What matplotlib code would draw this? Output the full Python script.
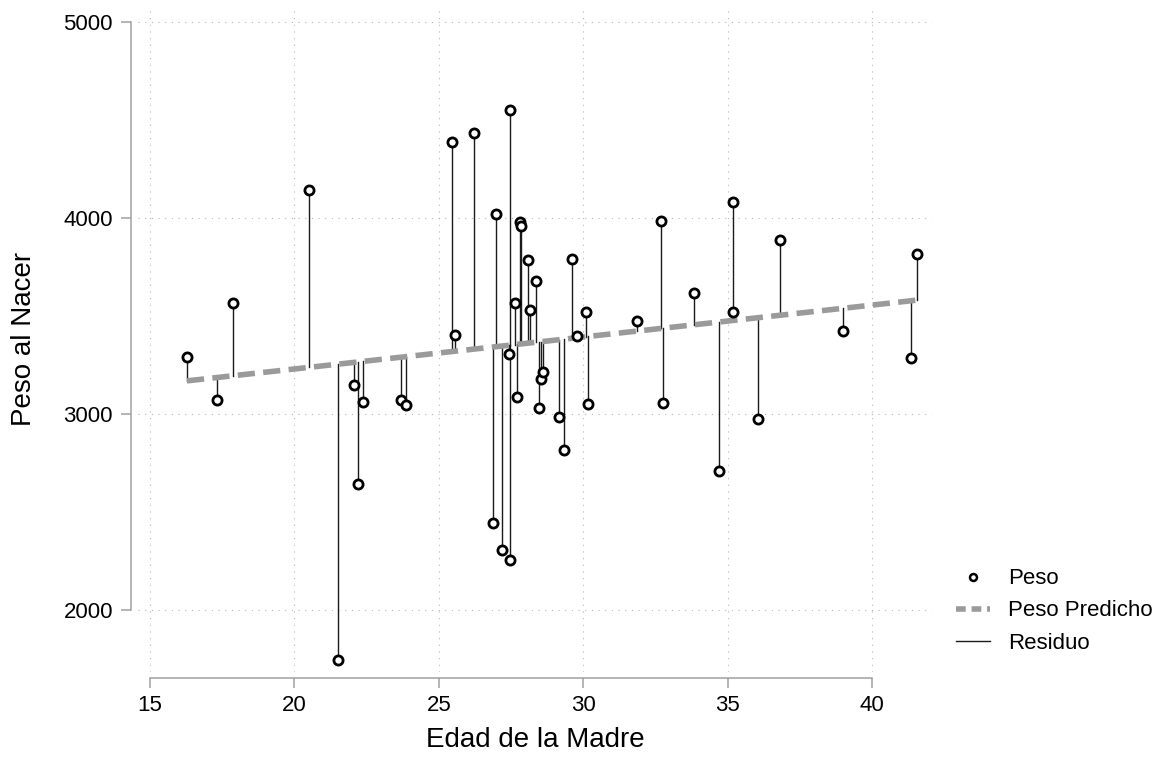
import numpy as np
import matplotlib
matplotlib.use("Agg")
import matplotlib.pyplot as plt
from matplotlib.lines import Line2D

plt.rcParams['font.family'] = ['Liberation Sans', 'DejaVu Sans']

# Data
edad = [16.28, 17.32, 17.87, 20.51, 21.52, 22.06, 22.20, 22.38, 23.69, 23.86,
        25.46, 25.56, 26.22, 26.88, 26.98, 27.19, 27.47, 27.43, 27.47, 27.64,
        27.71, 27.81, 27.85, 28.09, 28.16, 28.37, 28.47, 28.54, 28.61, 29.16,
        29.34, 29.61, 29.79, 30.10, 30.17, 31.86, 32.69, 32.76, 33.84, 34.70,
        35.19, 35.17, 36.05, 36.81, 39.00, 41.35, 41.56]
peso = [3291, 3071, 3566, 4143, 1745, 3148, 2643, 3061, 3071, 3046,
        4388, 3403, 4434, 2444, 4020, 2306, 4551, 3306, 2255, 3566,
        3087, 3980, 3959, 3786, 3531, 3679, 3031, 3179, 3214, 2985,
        2816, 3791, 3398, 3520, 3051, 3474, 3985, 3056, 3617, 2709,
        4082, 3520, 2974, 3888, 3423, 3286, 3816]

x_ticks = [15, 20, 25, 30, 35, 40]
y_ticks = [2000, 3000, 4000, 5000]
x_label = "Edad de la Madre"
y_label = "Peso al Nacer"
legend_labels = ["Peso", "Peso Predicho", "Residuo"]

x = np.array(edad)
y = np.array(peso)
b1, b0 = np.polyfit(x, y, 1)
pred = b0 + b1 * x

W, H = 1169, 760
fig = plt.figure(figsize=(W / 100, H / 100), dpi=100)
ax = fig.add_axes([138 / W, 1 - 672 / H, (932 - 138) / W, (672 - 6) / H])

# residual lines
for xi, yi, pi in zip(x, y, pred):
    ax.plot([xi, xi], [yi, pi], color='#1a1a1a', lw=1.0, zorder=2)

order = np.argsort(x)
ax.plot(x[order], pred[order], color='#9a9a9a', lw=4.0, dashes=(3.1, 1.5),
        solid_capstyle='butt', dash_capstyle='butt', zorder=3)

ax.plot(x, y, linestyle='none', marker='o', ms=6.6, mfc='white', mec='black',
        mew=2.0, zorder=4)

ax.set_xlim(15 - 12 / 28.88, 40 + 60 / 28.88)
ax.set_ylim(2000 - 62 / 0.196, 5000 + 16 / 0.196)
ax.set_xticks(x_ticks)
ax.set_yticks(y_ticks)
ax.set_xticklabels([str(v) for v in x_ticks])
ax.set_yticklabels([str(v) for v in y_ticks])

ax.grid(True, color='#b5b5b5', lw=0.8, linestyle=(0, (1, 5)))
ax.set_axisbelow(True)

for s in ['top', 'right']:
    ax.spines[s].set_visible(False)
spine_c = '#a0a0a0'
ax.spines['left'].set_position(('outward', 5))
ax.spines['bottom'].set_position(('outward', 4.3))
ax.spines['left'].set_bounds(2000, 5000)
ax.spines['bottom'].set_bounds(15, 40)
for s in ['left', 'bottom']:
    ax.spines[s].set_color(spine_c)
    ax.spines[s].set_linewidth(1.1)
ax.tick_params(axis='both', colors=spine_c, labelcolor='black', width=1.1,
               length=7.5, labelsize=16)
ax.tick_params(axis='y', pad=5.5)
ax.tick_params(axis='x', pad=5)

ax.set_xlabel(x_label, fontsize=20, va='center')
ax.xaxis.set_label_coords(0.5, (672 - 740) / 666)
ax.set_ylabel(y_label, fontsize=20, va='center')
ax.yaxis.set_label_coords((24 - 138) / 794, 0.5)

handles = [
    Line2D([], [], linestyle='none', marker='o', ms=5, mfc='white', mec='black', mew=1.8),
    Line2D([], [], color='#9a9a9a', lw=4.0, dashes=(1.75, 1.05), dash_capstyle='butt'),
    Line2D([], [], color='#1a1a1a', lw=1.0),
]
fig.legend(handles, legend_labels, loc='center left',
           bbox_to_anchor=(956 / W, 1 - 611 / H), frameon=False, fontsize=16,
           handlelength=1.55, handletextpad=0.8, labelspacing=0.5,
           borderpad=0, borderaxespad=0)

fig.savefig("out.png", dpi=100)
